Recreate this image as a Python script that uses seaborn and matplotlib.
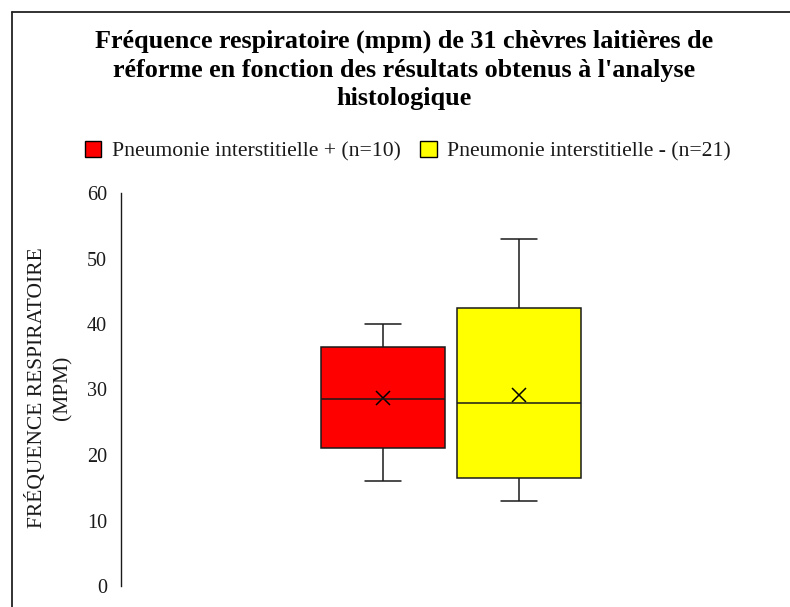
import matplotlib
matplotlib.use("Agg")
import matplotlib.pyplot as plt
from matplotlib.patches import Patch
from matplotlib.lines import Line2D
import pandas as pd
import seaborn as sns

# Five-number summaries (min, Q1, median, Q3, max) per histology group
groupes = ["Pneumonie interstitielle + (n=10)", "Pneumonie interstitielle - (n=21)"]
resume_positif = [16, 21, 28.5, 36.5, 40]
resume_negatif = [13, 16.5, 28, 42.5, 53]
moyennes = [28.7, 29.2]
couleurs = ["#FF0000", "#FFFF00"]

titre = ("Fréquence respiratoire (mpm) de 31 chèvres laitières de\n"
         "réforme en fonction des résultats obtenus à l'analyse\n"
         "histologique")
etiquette_y = "FRÉQUENCE RESPIRATOIRE\n(MPM)"
graduations_y = [0, 10, 20, 30, 40, 50, 60]

donnees = pd.DataFrame({
    "groupe": [groupes[0]] * len(resume_positif) + [groupes[1]] * len(resume_negatif),
    "frequence": resume_positif + resume_negatif,
})
donnees_moy = pd.DataFrame({"groupe": groupes, "moyenne": moyennes})

sns.set_theme(style="white")
plt.rcParams["font.family"] = ["Liberation Serif", "DejaVu Serif"]

W, H = 790, 607
fig = plt.figure(figsize=(W / 100, H / 100), dpi=100)
ax = fig.add_axes([121 / W, 1 - 586 / H, 660 / W, 393 / H])

palette = dict(zip(groupes, couleurs))
sns.boxplot(
    data=donnees, x="groupe", y="frequence", hue="groupe", order=groupes,
    hue_order=groupes, palette=palette, saturation=1, dodge=False, whis=(0, 100),
    width=0.91, linewidth=1.1, linecolor="#1a1a1a", legend=False,
    capwidths=0.27, ax=ax,
)
sns.pointplot(
    data=donnees_moy, x="groupe", y="moyenne", order=groupes, color="black",
    markers="x", linestyles="none", errorbar=None, markersize=10,
    markeredgewidth=1.1, ax=ax,
)

ax.set_xlim(-1.926, 2.926)
ax.set_ylim(0, 60)
ax.set_yticks(graduations_y)
ax.set_xticks([])
ax.set_xlabel("")
ax.set_ylabel("")
ax.tick_params(axis="y", length=0, pad=10, labelsize=14.5, labelcolor="#1a1a1a")
for cote in ["top", "right", "bottom"]:
    ax.spines[cote].set_visible(False)
ax.spines["left"].set_color("#1a1a1a")
ax.spines["left"].set_linewidth(1.0)

# Axis title, two centred lines rotated along the value axis
fig.text(49 / W, 1 - 388 / H, etiquette_y, rotation=90, ha="center", va="center",
         multialignment="center", fontsize=15.5, color="#1a1a1a", linespacing=1.45)

fig.text(404 / W, 1 - 70 / H, titre, ha="center", va="center",
         fontsize=18.8, fontweight="bold", color="black", linespacing=1.3)

poignees = [Patch(facecolor=c, edgecolor="black", linewidth=1.0) for c in couleurs]
fig.legend(poignees, groupes, loc="center", bbox_to_anchor=(408 / W, 1 - 151 / H),
           ncol=2, frameon=False, fontsize=15.6, handlelength=0.75, handleheight=0.75,
           handletextpad=0.5, columnspacing=0.9, labelcolor="#1a1a1a",
           borderpad=0, borderaxespad=0)

# Outer chart frame (top and left edges)
fig.add_artist(Line2D([11.5 / W, 11.5 / W], [0, 1 - 11.5 / H], color="#222222",
                      linewidth=1.3, transform=fig.transFigure))
fig.add_artist(Line2D([11.5 / W, 1], [1 - 11.5 / H, 1 - 11.5 / H], color="#222222",
                      linewidth=1.3, transform=fig.transFigure))

fig.savefig("out.png", dpi=100)
